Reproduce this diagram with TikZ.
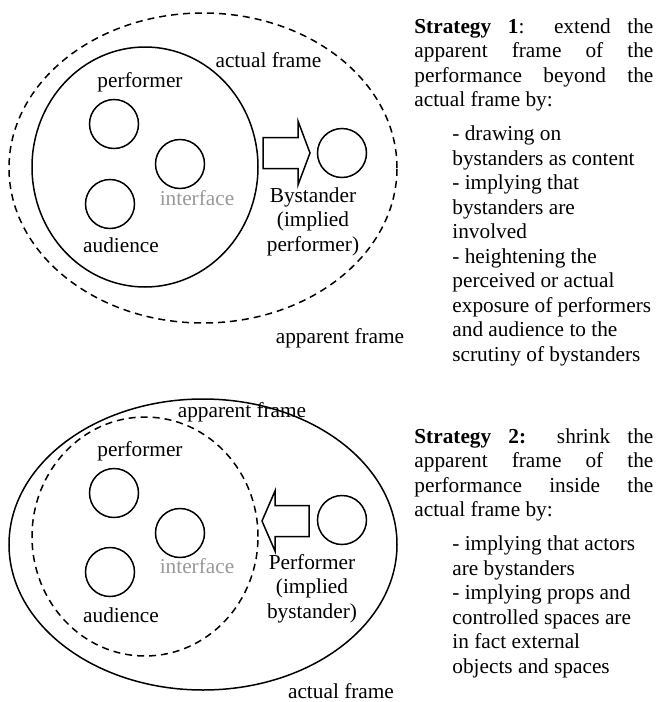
\documentclass[tikz,border=0pt]{standalone}
\usepackage{fontspec}
\setmainfont{Liberation Serif}
\tikzset{>=latex}
\tikzset{
  actual/.style={line width=0.75pt},
  apparent/.style={line width=0.75pt,dash pattern=on 3.5pt off 2.5pt},
  member/.style={draw,circle,line width=0.75pt,minimum size=24.5pt,inner sep=0pt},
  lbl/.style={anchor=base,inner sep=0pt,align=center},
  blockarrow/.style={draw,line width=0.75pt,line join=miter},
  strat/.style={anchor=base west,inner sep=0pt,text width=119.5pt,align=justify},
  items/.style={anchor=base west,inner sep=0pt,align=left},
}
\newcommand{\txtsize}{\fontsize{10.65}{12.25}\selectfont}

\begin{document}
\begin{tikzpicture}[x=0.5pt,y=-0.5pt,font=\txtsize]
  \useasboundingbox (0,0) rectangle (655,702);
  % strategy 1 (multi-line labels sit on their last line)
  \draw[apparent] (203,168) ellipse [x radius=97pt,y radius=77.5pt];
  \draw[actual] (145,167) ellipse [x radius=56.5pt,y radius=60pt];
  \node[member] (perf1) at (114,124) {};
  \node[member] (intf1) at (180,164) {};
  \node[member] (aud1) at (110,204) {};
  \node[member] (byst1) at (342,153) {};
  \draw[blockarrow] (263,137.5) -- (298,137.5) -- (298,121) -- (310,153)
    -- (298,185) -- (298,168.5) -- (263,168.5) -- cycle;
  \node[lbl] (actlbl1) at (268.5,67) {actual frame};
  \node[lbl] (perflbl1) at (140,87) {performer};
  \node[lbl,black!40] (intflbl1) at (197,205) {interface};
  \node[lbl] (audlbl1) at (121,252) {audience};
  \node[lbl] (bystlbl1) at (313,251) {Bystander\\(implied\\performer)};
  \node[lbl] (applbl1) at (340,343) {apparent frame};
  \node[strat] (strat1) at (414,33) {\textbf{Strategy 1}: extend the\linebreak
    apparent frame of the\linebreak performance beyond the\linebreak actual frame by:};
  \node[items] (list1) at (452,361) {- drawing on\\bystanders as content\\- implying that\\
    bystanders are\\involved\\- heightening the\\perceived or actual\\
    exposure of performers\\and audience to the\\scrutiny of bystanders};
  % strategy 2
  \draw[actual] (203,544.5) ellipse [x radius=97pt,y radius=72.75pt];
  \draw[apparent] (145,536.5) ellipse [x radius=56.5pt,y radius=59.75pt];
  \node[member] (perf2) at (114,493) {};
  \node[member] (intf2) at (180,533) {};
  \node[member] (aud2) at (110,572) {};
  \node[member] (byst2) at (342,520) {};
  \draw[blockarrow] (309,505.5) -- (275,505.5) -- (275,491) -- (262,521)
    -- (275,551) -- (275,536.5) -- (309,536.5) -- cycle;
  \node[lbl] (applbl2) at (242,417) {apparent frame};
  \node[lbl] (perflbl2) at (140,456) {performer};
  \node[lbl,black!40] (intflbl2) at (197,573) {interface};
  \node[lbl] (audlbl2) at (121,622) {audience};
  \node[lbl] (bystlbl2) at (312,618) {Performer\\(implied\\bystander)};
  \node[lbl] (actlbl2) at (341,698) {actual frame};
  \node[strat] (strat2) at (414,443) {\textbf{Strategy 2:} shrink the\linebreak
    apparent frame of the\linebreak performance inside the\linebreak actual frame by:};
  \node[items] (list2) at (452,673) {- implying that actors\\are bystanders\\
    - implying props and\\controlled spaces are\\in fact external\\objects and spaces};
\end{tikzpicture}
\end{document}
